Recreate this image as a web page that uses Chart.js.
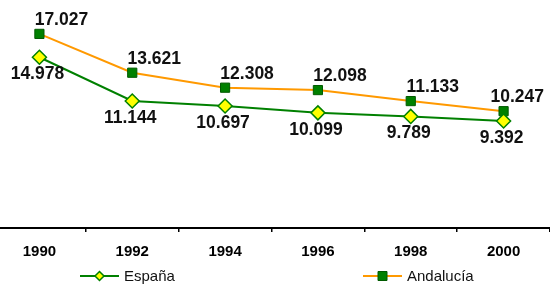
<!DOCTYPE html>
<html>
<head>
<meta charset="utf-8">
<script src="https://cdn.jsdelivr.net/npm/chart.js@4.4.0/dist/chart.umd.min.js"></script>
<style>
  html, body { margin: 0; padding: 0; background: #fff; overflow: hidden; }
  #wrap { position: relative; width: 550px; height: 285px; overflow: hidden; }
  #chart { position: absolute; left: -7px; top: 0; }
</style>
</head>
<body>
<div id="wrap"><canvas id="chart" width="557" height="285"></canvas></div>
<script>
const years = ['1990', '1992', '1994', '1996', '1998', '2000'];
const espana = [14978, 11144, 10697, 10099, 9789, 9392];
const andalucia = [17027, 13621, 12308, 12098, 11133, 10247];

// 14978 -> "14.978"
function fmt(v) {
    return String(v).replace(/\B(?=(\d{3})+(?!\d))/g, '.');
}

const valueLabels = {
    id: 'valueLabels',
    afterDatasetsDraw(chart) {
        const ctx = chart.ctx;
        const offsets = [[-2, 17], [22, -14]];
        ctx.save();
        ctx.font = 'bold 17.5px "Liberation Sans", Arial, sans-serif';
        ctx.fillStyle = '#111';
        ctx.textAlign = 'center';
        ctx.textBaseline = 'middle';
        chart.data.datasets.forEach((ds, i) => {
            const meta = chart.getDatasetMeta(i);
            meta.data.forEach((pt, j) => {
                const txt = fmt(ds.data[j]);
                const half = ctx.measureText(txt).width / 2;
                // keep the label inside the picture
                const x = Math.min(pt.x + offsets[i][0], chart.width - 6 - half);
                ctx.fillText(txt, x, pt.y + offsets[i][1]);
            });
        });
        ctx.restore();
    }
};

// legend drawn by hand so the two entries sit where they do in the original
const legendItems = {
    id: 'legendItems',
    afterDraw(chart) {
        const ctx = chart.ctx;
        const y = 276;
        const spots = [87, 370];
        ctx.save();
        ctx.font = '15px "Liberation Sans", Arial, sans-serif';
        ctx.textBaseline = 'middle';
        chart.data.datasets.forEach((ds, i) => {
            const x = spots[i];
            ctx.strokeStyle = ds.borderColor;
            ctx.lineWidth = 2;
            ctx.beginPath();
            ctx.moveTo(x, y);
            ctx.lineTo(x + 39, y);
            ctx.stroke();
            ctx.fillStyle = ds.pointBackgroundColor;
            ctx.strokeStyle = ds.pointBorderColor;
            ctx.lineWidth = ds.pointBorderWidth;
            const cx = x + 19.5;
            ctx.beginPath();
            if (ds.pointStyle === 'rectRot') {
                ctx.moveTo(cx, y - 4.5);
                ctx.lineTo(cx + 4.5, y);
                ctx.lineTo(cx, y + 4.5);
                ctx.lineTo(cx - 4.5, y);
                ctx.closePath();
            } else {
                ctx.rect(cx - 4.5, y - 4.5, 9, 9);
            }
            ctx.fill();
            ctx.stroke();
            ctx.fillStyle = '#111';
            ctx.fillText(ds.label, x + 44, y + 1);
        });
        ctx.restore();
    }
};

new Chart(document.getElementById('chart'), {
    type: 'line',
    data: {
        labels: years,
        datasets: [{
            label: 'España',
            data: espana,
            borderColor: '#008000',
            borderWidth: 2,
            pointStyle: 'rectRot',
            pointRadius: 7,
            pointBackgroundColor: '#ffff00',
            pointBorderColor: '#008000',
            pointBorderWidth: 1.5,
            tension: 0,
            clip: false
        }, {
            label: 'Andalucía',
            data: andalucia,
            borderColor: '#ff9900',
            borderWidth: 2,
            pointStyle: 'rect',
            pointRadius: 6.5,
            pointBackgroundColor: '#008000',
            pointBorderColor: '#005a00',
            pointBorderWidth: 1,
            tension: 0,
            clip: false
        }]
    },
    options: {
        responsive: false,
        animation: false,
        devicePixelRatio: 1,
        layout: { padding: 0, autoPadding: false },
        plugins: {
            legend: { display: false },
            tooltip: { enabled: false }
        },
        scales: {
            x: {
                offset: true,
                grid: {
                    offset: true,
                    drawOnChartArea: false,
                    drawTicks: true,
                    tickLength: 4,
                    color: '#000',
                    lineWidth: 1.5
                },
                border: { color: '#000', width: 2 },
                ticks: {
                    color: '#000',
                    padding: 11,
                    maxRotation: 0,
                    autoSkip: false,
                    font: { family: '"Liberation Sans", Arial, sans-serif', weight: 'bold', size: 15 }
                },
                afterFit: s => { s.height = 57; }
            },
            y: {
                display: false,
                min: 0,
                max: 20000
            }
        }
    },
    plugins: [valueLabels, legendItems]
});
</script>
</body>
</html>
